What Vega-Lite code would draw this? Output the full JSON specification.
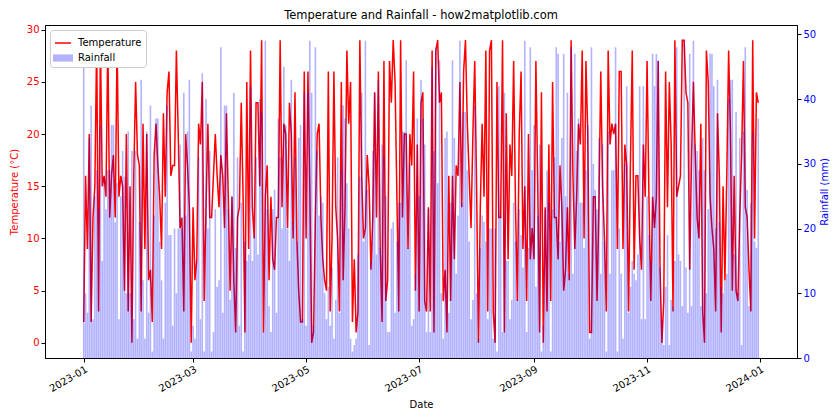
{
"$schema":"https://vega.github.io/schema/vega-lite/v6.json",
"width":752,"height":333,
"autosize":{"type":"none"},
"padding":{"left":45,"top":25,"right":43,"bottom":62},
"background":"white",
"config":{"font":"DejaVu Sans","view":{"stroke":"black","strokeWidth":1},
"axis":{"grid":false,"domainColor":"black","tickColor":"black","labelFontSize":10,"titleFontSize":10,"titleFontWeight":"normal","labelColor":"black","titleColor":"black","tickSize":4,"labelPadding":2}},
"title":{"text":"Temperature and Rainfall - how2matplotlib.com","fontSize":11.5,"fontWeight":"normal","anchor":"middle","offset":3,"color":"black"},
"data":{"values":[
{"d":"2023-01-01","t":2,"r":48},{"d":"2023-01-02","t":16,"r":10},{"d":"2023-01-03","t":9,"r":7},{"d":"2023-01-04","t":20,"r":34},{"d":"2023-01-05","t":2,"r":39},{"d":"2023-01-06","t":12,"r":6},{"d":"2023-01-07","t":15,"r":25},{"d":"2023-01-08","t":29,"r":29},{"d":"2023-01-09","t":3,"r":23},{"d":"2023-01-10","t":29,"r":36},{"d":"2023-01-11","t":15,"r":15},{"d":"2023-01-12","t":16,"r":28},{"d":"2023-01-13","t":14,"r":23},{"d":"2023-01-14","t":29,"r":29},{"d":"2023-01-15","t":12,"r":29},{"d":"2023-01-16","t":16,"r":36},{"d":"2023-01-17","t":18,"r":36},{"d":"2023-01-18","t":12,"r":21},{"d":"2023-01-19","t":29,"r":27},{"d":"2023-01-20","t":14,"r":6},{"d":"2023-01-21","t":16,"r":25},{"d":"2023-01-22","t":15,"r":32},{"d":"2023-01-23","t":5,"r":28},{"d":"2023-01-24","t":20,"r":10},{"d":"2023-01-25","t":3,"r":35},{"d":"2023-01-26","t":15,"r":10},{"d":"2023-01-27","t":0,"r":32},{"d":"2023-01-28","t":16,"r":6},{"d":"2023-01-29","t":25,"r":32},{"d":"2023-01-30","t":18,"r":3},{"d":"2023-01-31","t":17,"r":21},
{"d":"2023-02-01","t":3,"r":43},{"d":"2023-02-02","t":21,"r":12},{"d":"2023-02-03","t":9,"r":3},{"d":"2023-02-04","t":20,"r":35},{"d":"2023-02-05","t":6,"r":7},{"d":"2023-02-06","t":7,"r":39},{"d":"2023-02-07","t":2,"r":1},{"d":"2023-02-08","t":18,"r":22},{"d":"2023-02-09","t":21,"r":37},{"d":"2023-02-10","t":17,"r":37},{"d":"2023-02-11","t":14,"r":18},{"d":"2023-02-12","t":9,"r":12},{"d":"2023-02-13","t":22,"r":3},{"d":"2023-02-14","t":14,"r":24},{"d":"2023-02-15","t":24,"r":39},{"d":"2023-02-16","t":26,"r":19},{"d":"2023-02-17","t":16,"r":19},{"d":"2023-02-18","t":17,"r":5},{"d":"2023-02-19","t":17,"r":20},{"d":"2023-02-20","t":28,"r":10},{"d":"2023-02-21","t":20,"r":20},{"d":"2023-02-22","t":11,"r":33},{"d":"2023-02-23","t":12,"r":20},{"d":"2023-02-24","t":3,"r":41},{"d":"2023-02-25","t":20,"r":22},{"d":"2023-02-26","t":17,"r":35},{"d":"2023-02-27","t":13,"r":43},{"d":"2023-02-28","t":0,"r":1},
{"d":"2023-03-01","t":13,"r":5},{"d":"2023-03-02","t":6,"r":3},{"d":"2023-03-03","t":8,"r":15},{"d":"2023-03-04","t":21,"r":31},{"d":"2023-03-05","t":19,"r":6},{"d":"2023-03-06","t":25,"r":44},{"d":"2023-03-07","t":4,"r":1},{"d":"2023-03-08","t":13,"r":40},{"d":"2023-03-09","t":21,"r":20},{"d":"2023-03-10","t":12,"r":32},{"d":"2023-03-11","t":12,"r":1},{"d":"2023-03-12","t":16,"r":4},{"d":"2023-03-13","t":20,"r":23},{"d":"2023-03-14","t":16,"r":11},{"d":"2023-03-15","t":13,"r":12},{"d":"2023-03-16","t":18,"r":48},{"d":"2023-03-17","t":16,"r":7},{"d":"2023-03-18","t":11,"r":39},{"d":"2023-03-19","t":22,"r":39},{"d":"2023-03-20","t":14,"r":23},{"d":"2023-03-21","t":5,"r":9},{"d":"2023-03-22","t":14,"r":25},{"d":"2023-03-23","t":6,"r":41},{"d":"2023-03-24","t":1,"r":17},{"d":"2023-03-25","t":12,"r":31},{"d":"2023-03-26","t":13,"r":5},{"d":"2023-03-27","t":23,"r":24},{"d":"2023-03-28","t":14,"r":1},{"d":"2023-03-29","t":1,"r":18},{"d":"2023-03-30","t":25,"r":15},{"d":"2023-03-31","t":9,"r":16},
{"d":"2023-04-01","t":28,"r":42},{"d":"2023-04-02","t":13,"r":15},{"d":"2023-04-03","t":10,"r":19},{"d":"2023-04-04","t":23,"r":31},{"d":"2023-04-05","t":23,"r":16},{"d":"2023-04-06","t":15,"r":40},{"d":"2023-04-07","t":29,"r":38},{"d":"2023-04-08","t":1,"r":4},{"d":"2023-04-09","t":14,"r":49},{"d":"2023-04-10","t":17,"r":23},{"d":"2023-04-11","t":6,"r":8},{"d":"2023-04-12","t":14,"r":4},{"d":"2023-04-13","t":8,"r":23},{"d":"2023-04-14","t":7,"r":26},{"d":"2023-04-15","t":12,"r":7},{"d":"2023-04-16","t":12,"r":37},{"d":"2023-04-17","t":29,"r":31},{"d":"2023-04-18","t":13,"r":20},{"d":"2023-04-19","t":21,"r":45},{"d":"2023-04-20","t":20,"r":36},{"d":"2023-04-21","t":11,"r":20},{"d":"2023-04-22","t":23,"r":15},{"d":"2023-04-23","t":20,"r":43},{"d":"2023-04-24","t":10,"r":21},{"d":"2023-04-25","t":24,"r":31},{"d":"2023-04-26","t":10,"r":18},{"d":"2023-04-27","t":5,"r":34},{"d":"2023-04-28","t":2,"r":36},{"d":"2023-04-29","t":2,"r":6},{"d":"2023-04-30","t":26,"r":41},
{"d":"2023-05-01","t":10,"r":5},{"d":"2023-05-02","t":26,"r":41},{"d":"2023-05-03","t":15,"r":49},{"d":"2023-05-04","t":0,"r":41},{"d":"2023-05-05","t":1,"r":5},{"d":"2023-05-06","t":12,"r":48},{"d":"2023-05-07","t":20,"r":32},{"d":"2023-05-08","t":21,"r":22},{"d":"2023-05-09","t":12,"r":25},{"d":"2023-05-10","t":8,"r":24},{"d":"2023-05-11","t":6,"r":10},{"d":"2023-05-12","t":5,"r":6},{"d":"2023-05-13","t":26,"r":11},{"d":"2023-05-14","t":3,"r":5},{"d":"2023-05-15","t":10,"r":14},{"d":"2023-05-16","t":26,"r":3},{"d":"2023-05-17","t":13,"r":9},{"d":"2023-05-18","t":10,"r":31},{"d":"2023-05-19","t":3,"r":7},{"d":"2023-05-20","t":25,"r":29},{"d":"2023-05-21","t":6,"r":39},{"d":"2023-05-22","t":13,"r":37},{"d":"2023-05-23","t":28,"r":27},{"d":"2023-05-24","t":21,"r":20},{"d":"2023-05-25","t":25,"r":3},{"d":"2023-05-26","t":2,"r":1},{"d":"2023-05-27","t":8,"r":2},{"d":"2023-05-28","t":1,"r":3},{"d":"2023-05-29","t":3,"r":16},{"d":"2023-05-30","t":29,"r":28},{"d":"2023-05-31","t":16,"r":41},
{"d":"2023-06-01","t":10,"r":18},{"d":"2023-06-02","t":11,"r":49},{"d":"2023-06-03","t":18,"r":26},{"d":"2023-06-04","t":15,"r":2},{"d":"2023-06-05","t":7,"r":15},{"d":"2023-06-06","t":12,"r":32},{"d":"2023-06-07","t":24,"r":41},{"d":"2023-06-08","t":12,"r":16},{"d":"2023-06-09","t":26,"r":43},{"d":"2023-06-10","t":9,"r":17},{"d":"2023-06-11","t":2,"r":33},{"d":"2023-06-12","t":27,"r":31},{"d":"2023-06-13","t":4,"r":25},{"d":"2023-06-14","t":6,"r":4},{"d":"2023-06-15","t":27,"r":4},{"d":"2023-06-16","t":23,"r":20},{"d":"2023-06-17","t":29,"r":21},{"d":"2023-06-18","t":25,"r":7},{"d":"2023-06-19","t":14,"r":18},{"d":"2023-06-20","t":3,"r":24},{"d":"2023-06-21","t":29,"r":24},{"d":"2023-06-22","t":12,"r":35},{"d":"2023-06-23","t":20,"r":35},{"d":"2023-06-24","t":20,"r":46},{"d":"2023-06-25","t":9,"r":17},{"d":"2023-06-26","t":20,"r":30},{"d":"2023-06-27","t":17,"r":5},{"d":"2023-06-28","t":26,"r":6},{"d":"2023-06-29","t":5,"r":13},{"d":"2023-06-30","t":19,"r":37},
{"d":"2023-07-01","t":3,"r":25},{"d":"2023-07-02","t":23,"r":43},{"d":"2023-07-03","t":24,"r":37},{"d":"2023-07-04","t":4,"r":33},{"d":"2023-07-05","t":3,"r":4},{"d":"2023-07-06","t":13,"r":23},{"d":"2023-07-07","t":3,"r":4},{"d":"2023-07-08","t":28,"r":45},{"d":"2023-07-09","t":1,"r":32},{"d":"2023-07-10","t":28,"r":48},{"d":"2023-07-11","t":29,"r":27},{"d":"2023-07-12","t":23,"r":46},{"d":"2023-07-13","t":24,"r":10},{"d":"2023-07-14","t":4,"r":3},{"d":"2023-07-15","t":7,"r":34},{"d":"2023-07-16","t":1,"r":35},{"d":"2023-07-17","t":16,"r":7},{"d":"2023-07-18","t":4,"r":24},{"d":"2023-07-19","t":16,"r":46},{"d":"2023-07-20","t":8,"r":34},{"d":"2023-07-21","t":17,"r":13},{"d":"2023-07-22","t":16,"r":22},{"d":"2023-07-23","t":25,"r":49},{"d":"2023-07-24","t":13,"r":24},{"d":"2023-07-25","t":26,"r":38},{"d":"2023-07-26","t":29,"r":38},{"d":"2023-07-27","t":21,"r":29},{"d":"2023-07-28","t":16,"r":18},{"d":"2023-07-29","t":11,"r":6},{"d":"2023-07-30","t":20,"r":9},{"d":"2023-07-31","t":27,"r":39},
{"d":"2023-08-01","t":15,"r":10},{"d":"2023-08-02","t":0,"r":3},{"d":"2023-08-03","t":13,"r":17},{"d":"2023-08-04","t":21,"r":22},{"d":"2023-08-05","t":14,"r":21},{"d":"2023-08-06","t":28,"r":18},{"d":"2023-08-07","t":3,"r":6},{"d":"2023-08-08","t":28,"r":20},{"d":"2023-08-09","t":29,"r":20},{"d":"2023-08-10","t":3,"r":3},{"d":"2023-08-11","t":0,"r":20},{"d":"2023-08-12","t":25,"r":1},{"d":"2023-08-13","t":12,"r":42},{"d":"2023-08-14","t":12,"r":22},{"d":"2023-08-15","t":29,"r":4},{"d":"2023-08-16","t":1,"r":41},{"d":"2023-08-17","t":22,"r":15},{"d":"2023-08-18","t":8,"r":15},{"d":"2023-08-19","t":19,"r":6},{"d":"2023-08-20","t":16,"r":9},{"d":"2023-08-21","t":27,"r":24},{"d":"2023-08-22","t":13,"r":18},{"d":"2023-08-23","t":4,"r":9},{"d":"2023-08-24","t":20,"r":23},{"d":"2023-08-25","t":26,"r":19},{"d":"2023-08-26","t":9,"r":14},{"d":"2023-08-27","t":15,"r":49},{"d":"2023-08-28","t":4,"r":4},{"d":"2023-08-29","t":20,"r":17},{"d":"2023-08-30","t":8,"r":48},{"d":"2023-08-31","t":11,"r":29},
{"d":"2023-09-01","t":8,"r":36},{"d":"2023-09-02","t":27,"r":11},{"d":"2023-09-03","t":15,"r":22},{"d":"2023-09-04","t":1,"r":33},{"d":"2023-09-05","t":24,"r":1},{"d":"2023-09-06","t":0,"r":5},{"d":"2023-09-07","t":13,"r":23},{"d":"2023-09-08","t":3,"r":29},{"d":"2023-09-09","t":19,"r":24},{"d":"2023-09-10","t":4,"r":1},{"d":"2023-09-11","t":25,"r":23},{"d":"2023-09-12","t":12,"r":31},{"d":"2023-09-13","t":12,"r":48},{"d":"2023-09-14","t":8,"r":47},{"d":"2023-09-15","t":17,"r":18},{"d":"2023-09-16","t":13,"r":34},{"d":"2023-09-17","t":5,"r":47},{"d":"2023-09-18","t":7,"r":25},{"d":"2023-09-19","t":13,"r":41},{"d":"2023-09-20","t":6,"r":13},{"d":"2023-09-21","t":29,"r":48},{"d":"2023-09-22","t":16,"r":13},{"d":"2023-09-23","t":9,"r":47},{"d":"2023-09-24","t":14,"r":32},{"d":"2023-09-25","t":21,"r":37},{"d":"2023-09-26","t":19,"r":24},{"d":"2023-09-27","t":28,"r":24},{"d":"2023-09-28","t":10,"r":17},{"d":"2023-09-29","t":27,"r":29},{"d":"2023-09-30","t":20,"r":36},
{"d":"2023-10-01","t":1,"r":3},{"d":"2023-10-02","t":1,"r":48},{"d":"2023-10-03","t":14,"r":30},{"d":"2023-10-04","t":14,"r":26},{"d":"2023-10-05","t":4,"r":23},{"d":"2023-10-06","t":13,"r":34},{"d":"2023-10-07","t":26,"r":13},{"d":"2023-10-08","t":15,"r":33},{"d":"2023-10-09","t":10,"r":18},{"d":"2023-10-10","t":3,"r":1},{"d":"2023-10-11","t":28,"r":35},{"d":"2023-10-12","t":19,"r":13},{"d":"2023-10-13","t":21,"r":29},{"d":"2023-10-14","t":20,"r":29},{"d":"2023-10-15","t":21,"r":48},{"d":"2023-10-16","t":9,"r":1},{"d":"2023-10-17","t":26,"r":20},{"d":"2023-10-18","t":26,"r":13},{"d":"2023-10-19","t":9,"r":3},{"d":"2023-10-20","t":19,"r":30},{"d":"2023-10-21","t":17,"r":42},{"d":"2023-10-22","t":3,"r":7},{"d":"2023-10-23","t":17,"r":11},{"d":"2023-10-24","t":28,"r":15},{"d":"2023-10-25","t":7,"r":13},{"d":"2023-10-26","t":16,"r":12},{"d":"2023-10-27","t":16,"r":16},{"d":"2023-10-28","t":10,"r":42},{"d":"2023-10-29","t":7,"r":6},{"d":"2023-10-30","t":19,"r":42},{"d":"2023-10-31","t":14,"r":6},
{"d":"2023-11-01","t":27,"r":25},{"d":"2023-11-02","t":14,"r":19},{"d":"2023-11-03","t":4,"r":15},{"d":"2023-11-04","t":14,"r":47},{"d":"2023-11-05","t":11,"r":42},{"d":"2023-11-06","t":14,"r":47},{"d":"2023-11-07","t":27,"r":46},{"d":"2023-11-08","t":7,"r":14},{"d":"2023-11-09","t":0,"r":6},{"d":"2023-11-10","t":4,"r":2},{"d":"2023-11-11","t":26,"r":11},{"d":"2023-11-12","t":13,"r":19},{"d":"2023-11-13","t":25,"r":2},{"d":"2023-11-14","t":19,"r":9},{"d":"2023-11-15","t":3,"r":8},{"d":"2023-11-16","t":29,"r":15},{"d":"2023-11-17","t":14,"r":48},{"d":"2023-11-18","t":15,"r":16},{"d":"2023-11-19","t":16,"r":15},{"d":"2023-11-20","t":29,"r":8},{"d":"2023-11-21","t":29,"r":49},{"d":"2023-11-22","t":24,"r":14},{"d":"2023-11-23","t":23,"r":7},{"d":"2023-11-24","t":7,"r":47},{"d":"2023-11-25","t":18,"r":8},{"d":"2023-11-26","t":25,"r":49},{"d":"2023-11-27","t":18,"r":33},{"d":"2023-11-28","t":12,"r":32},{"d":"2023-11-29","t":10,"r":29},{"d":"2023-11-30","t":21,"r":8},
{"d":"2023-12-01","t":3,"r":34},{"d":"2023-12-02","t":0,"r":29},{"d":"2023-12-03","t":28,"r":10},{"d":"2023-12-04","t":25,"r":23},{"d":"2023-12-05","t":14,"r":47},{"d":"2023-12-06","t":11,"r":47},{"d":"2023-12-07","t":9,"r":42},{"d":"2023-12-08","t":3,"r":20},{"d":"2023-12-09","t":22,"r":43},{"d":"2023-12-10","t":16,"r":21},{"d":"2023-12-11","t":1,"r":11},{"d":"2023-12-12","t":15,"r":10},{"d":"2023-12-13","t":6,"r":12},{"d":"2023-12-14","t":16,"r":13},{"d":"2023-12-15","t":28,"r":40},{"d":"2023-12-16","t":20,"r":43},{"d":"2023-12-17","t":5,"r":43},{"d":"2023-12-18","t":16,"r":16},{"d":"2023-12-19","t":5,"r":38},{"d":"2023-12-20","t":4,"r":10},{"d":"2023-12-21","t":12,"r":34},{"d":"2023-12-22","t":18,"r":2},{"d":"2023-12-23","t":27,"r":35},{"d":"2023-12-24","t":13,"r":48},{"d":"2023-12-25","t":12,"r":26},{"d":"2023-12-26","t":7,"r":8},{"d":"2023-12-27","t":3,"r":24},{"d":"2023-12-28","t":29,"r":35},{"d":"2023-12-29","t":10,"r":18},{"d":"2023-12-30","t":24,"r":17},{"d":"2023-12-31","t":23,"r":37}
]},
"layer":[
{"mark":{"type":"line","strokeWidth":1.5},
"encoding":{
"x":{"field":"d","type":"temporal","title":"Date",
"scale":{"type":"utc","domain":[{"year":2022,"month":12,"date":13,"hours":19,"minutes":12,"utc":true},{"year":2024,"month":1,"date":18,"hours":4,"minutes":48,"utc":true}]},
"axis":{"values":[{"year":2023,"month":1,"date":1,"utc":true},{"year":2023,"month":3,"date":1,"utc":true},{"year":2023,"month":5,"date":1,"utc":true},{"year":2023,"month":7,"date":1,"utc":true},{"year":2023,"month":9,"date":1,"utc":true},{"year":2023,"month":11,"date":1,"utc":true},{"year":2024,"month":1,"date":1,"utc":true}],
"format":"%Y-%m","labelAngle":-30,"labelAlign":"right","labelBaseline":"top","titlePadding":6}},
"y":{"field":"t","type":"quantitative","title":"Temperature (°C)",
"scale":{"domain":[-1.45,30.45],"nice":false,"zero":false},
"axis":{"values":[0,5,10,15,20,25,30],"labelColor":"#ff0000","titleColor":"#ff0000","titlePadding":7}},
"color":{"datum":"Temperature","type":"nominal",
"scale":{"domain":["Temperature","Rainfall"],"range":["#ff0000","#0000ff"]},
"legend":{"title":null,"orient":"top-left","offset":5,"strokeColor":"#cccccc","fillColor":"white","padding":4,"cornerRadius":3,"labelFontSize":10,"symbolSize":256,"rowPadding":1,"labelOffset":6,
"encode":{"symbols":{"update":{
"shape":{"signal":"datum.value === 'Temperature' ? 'stroke' : 'M-1.25,-0.45L1.25,-0.45L1.25,0.45L-1.25,0.45Z'"},
"strokeWidth":{"value":1.5},
"opacity":{"value":1},
"fillOpacity":{"signal":"datum.value === 'Temperature' ? 0 : 0.3"},
"strokeOpacity":{"signal":"datum.value === 'Temperature' ? 1 : 0"}}}}}}
}},
{"mark":{"type":"bar","opacity":0.3,"size":1.6},
"encoding":{
"x":{"field":"d","type":"temporal"},
"y":{"field":"r","type":"quantitative","title":"Rainfall (mm)",
"scale":{"domain":[0,51.45],"nice":false},
"axis":{"orient":"right","values":[0,10,20,30,40,50],"labelColor":"#0000ff","titleColor":"#0000ff","titleAngle":270,"titleBaseline":"top","titlePadding":4}},
"color":{"datum":"Rainfall","type":"nominal"}
}}
],
"resolve":{"scale":{"y":"independent"}}
}
